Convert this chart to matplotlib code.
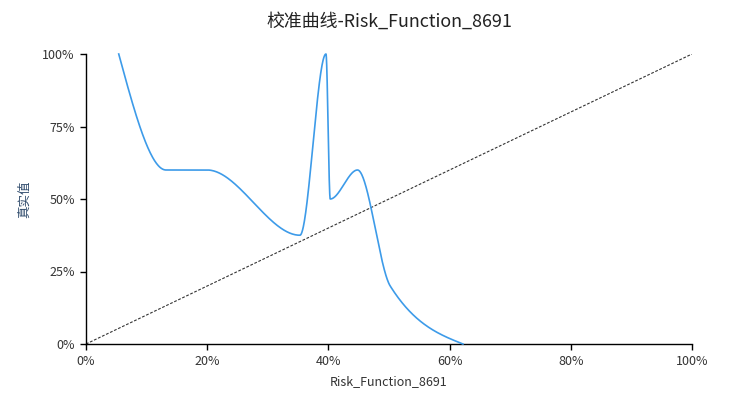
import numpy as np
import matplotlib
matplotlib.use("Agg")
import matplotlib.pyplot as plt
from matplotlib.ticker import FuncFormatter

plt.rcParams['font.family'] = ['Noto Sans CJK SC', 'DejaVu Sans']

title = "校准曲线-Risk_Function_8691"
x_name = "Risk_Function_8691"
y_name = "真实值"

pred = [5.4, 13.2, 20.0, 35.3, 39.6, 40.3, 44.8, 50.2, 62.2]
true = [100.0, 60.0, 60.0, 37.5, 100.0, 50.0, 60.0, 20.0, 0.0]
diag_x = [0, 100]
diag_y = [0, 100]
xticks = [0, 20, 40, 60, 80, 100]
yticks = [0, 25, 50, 75, 100]

W, H = 754, 395
fig = plt.figure(figsize=(W / 100, H / 100), dpi=100)
L, R, T, B = 86, 692, 54, 344
ax = fig.add_axes([L / W, 1 - B / H, (R - L) / W, (B - T) / H])
ax.set_xlim(0, 100)
ax.set_ylim(0, 100)

# Monotone cubic (Fritsch-Carlson, as d3.curveMonotoneX)
x = np.array(pred, float)
y = np.array(true, float)
n = len(x)
m = np.zeros(n)
for i in range(1, n - 1):
    h0 = x[i] - x[i - 1]
    h1 = x[i + 1] - x[i]
    s0 = (y[i] - y[i - 1]) / h0
    s1 = (y[i + 1] - y[i]) / h1
    p = (s0 * h1 + s1 * h0) / (h0 + h1)
    m[i] = (np.sign(s0) + np.sign(s1)) * min(abs(s0), abs(s1), 0.5 * abs(p))
m[0] = (3 * (y[1] - y[0]) / (x[1] - x[0]) - m[1]) / 2
m[-1] = (3 * (y[-1] - y[-2]) / (x[-1] - x[-2]) - m[-2]) / 2

xs, ys = [], []
t = np.linspace(0, 1, 100)
for i in range(n - 1):
    h = x[i + 1] - x[i]
    h00 = 2 * t**3 - 3 * t**2 + 1
    h10 = t**3 - 2 * t**2 + t
    h01 = -2 * t**3 + 3 * t**2
    h11 = t**3 - t**2
    xs.extend(x[i] + t * h)
    ys.extend(h00 * y[i] + h10 * h * m[i] + h01 * y[i + 1] + h11 * h * m[i + 1])

ax.plot(diag_x, diag_y, color='#333333', lw=0.8, ls=(0, (2.5, 1.5)), zorder=2)
ax.plot(xs, ys, color='#3d9be9', lw=1.2, zorder=3, clip_on=False)

for s in ['top', 'right']:
    ax.spines[s].set_visible(False)
for s in ['left', 'bottom']:
    ax.spines[s].set_color('black')
    ax.spines[s].set_linewidth(1.0)

ax.set_xticks(xticks)
ax.set_yticks(yticks)
fmt = FuncFormatter(lambda v, _: f"{int(v)}%")
ax.xaxis.set_major_formatter(fmt)
ax.yaxis.set_major_formatter(fmt)
ax.tick_params(axis='both', direction='out', length=4, width=1, color='black',
               labelsize=9, labelcolor='#333333')
ax.tick_params(axis='x', pad=4)
ax.tick_params(axis='y', pad=4)

fig.text((L + R) / 2 / W, 1 - 22 / H, title, ha='center', va='center', fontsize=12.9, color='#222222')
fig.text((L + R) / 2 / W, 1 - 382 / H, x_name, ha='center', va='center', fontsize=9, color='#333333')
fig.text(25 / W, 1 - 199 / H, y_name, ha='center', va='center', rotation=90, fontsize=9, color='#2e4a6b')

fig.savefig("out.png", dpi=100)
